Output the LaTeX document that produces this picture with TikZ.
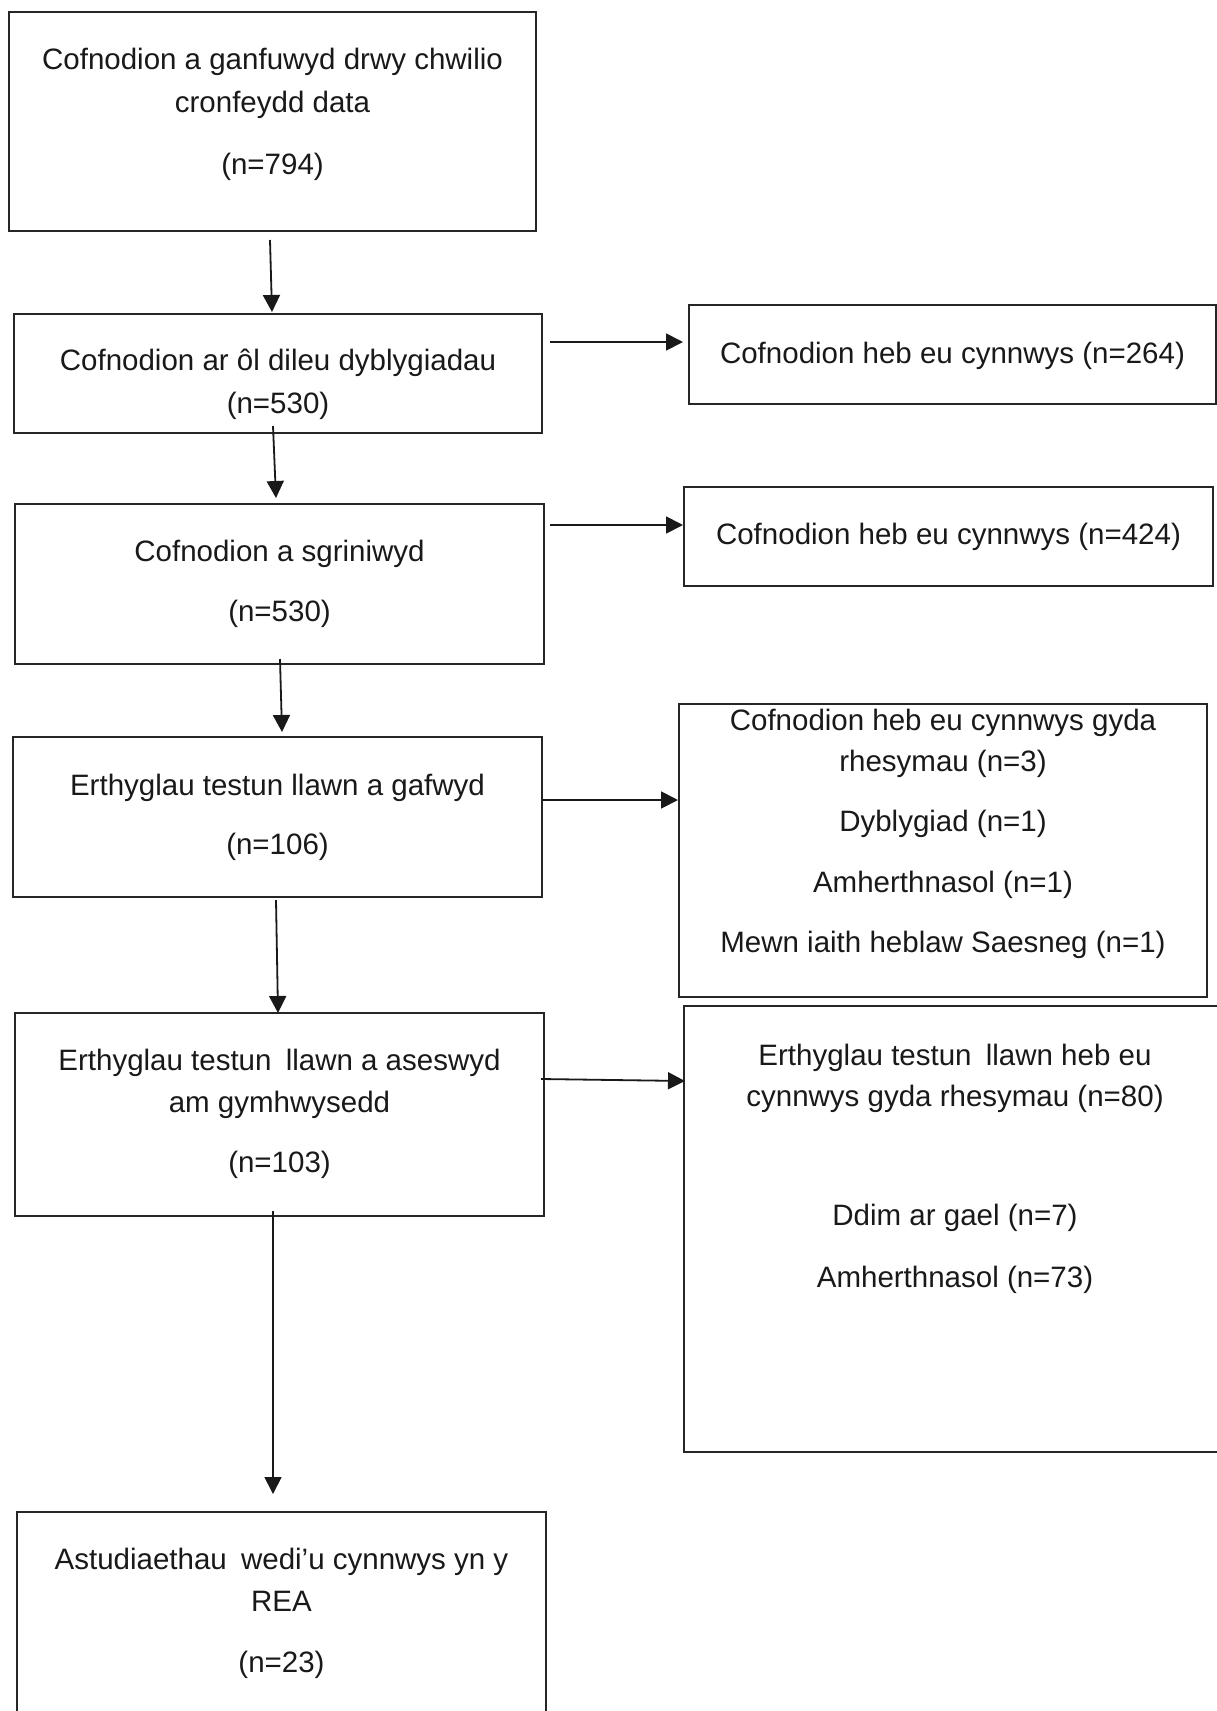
\documentclass[tikz,border=0pt]{standalone}
\usepackage{fontspec}
\setmainfont{Liberation Sans}
\usetikzlibrary{arrows.meta}
\tikzset{
  box/.style={draw=black!85, line width=1.8pt, inner sep=0pt, outer sep=0pt},
  txt/.style={anchor=base, inner sep=0pt, font=\fontsize{29.5}{35}\selectfont, text=black!90},
  arr/.style={line width=1.8pt, draw=black!90, -{Triangle[length=17pt,width=17pt]}},
}
\begin{document}
\begin{tikzpicture}[x=1pt,y=-1pt]
\clip (0,0) rectangle (1217,1711);
\fill[white] (0,0) rectangle (1217,1711);
% boxes
\node[box, minimum width=527pt, minimum height=219pt] (b1) at (272.5,121.5) {};
\node[box, minimum width=528pt, minimum height=119pt] (b2) at (278,373.5) {};
\node[box, minimum width=527pt, minimum height=99pt]  (r1) at (952.5,354.5) {};
\node[box, minimum width=529pt, minimum height=160pt] (b3) at (279.5,584) {};
\node[box, minimum width=529pt, minimum height=99pt]  (r2) at (948.5,536.5) {};
\node[box, minimum width=529pt, minimum height=160pt] (b4) at (277.5,817) {};
\node[box, minimum width=528pt, minimum height=293pt] (r3) at (943,850.5) {};
\node[box, minimum width=529pt, minimum height=203pt] (b5) at (279.5,1114.5) {};
\node[box, minimum width=542pt, minimum height=446pt] (r4) at (955,1229) {};
\node[box, minimum width=529pt, minimum height=248pt] (b6) at (281.5,1636) {};
% texts
\node[txt] (t1a) at (272.5,69) {Cofnodion a ganfuwyd drwy chwilio};
\node[txt] (t1b) at (272.5,112) {cronfeydd data};
\node[txt] (t1c) at (272.5,174) {(n=794)};
\node[txt] (t2a) at (278,370) {Cofnodion ar ôl dileu dyblygiadau};
\node[txt] (t2b) at (278,413) {(n=530)};
\node[txt] (tr1) at (952.5,363) {Cofnodion heb eu cynnwys (n=264)};
\node[txt] (t3a) at (279.5,561) {Cofnodion a sgriniwyd};
\node[txt] (t3b) at (279.5,621) {(n=530)};
\node[txt] (tr2) at (948.5,544) {Cofnodion heb eu cynnwys (n=424)};
\node[txt] (t4a) at (277.5,795) {Erthyglau testun llawn a gafwyd};
\node[txt] (t4b) at (277.5,854) {(n=106)};
\node[txt] (tr3a) at (943,730) {Cofnodion heb eu cynnwys gyda};
\node[txt] (tr3b) at (943,771) {rhesymau (n=3)};
\node[txt] (tr3c) at (943,831) {Dyblygiad (n=1)};
\node[txt] (tr3d) at (943,892) {Amherthnasol (n=1)};
\node[txt] (tr3e) at (943,952) {Mewn iaith heblaw Saesneg (n=1)};
\node[txt] (t5a) at (279.5,1070) {Erthyglau testun\hspace{6pt} llawn a aseswyd};
\node[txt] (t5b) at (279.5,1112) {am gymhwysedd};
\node[txt] (t5c) at (279.5,1172) {(n=103)};
\node[txt] (tr4a) at (955,1065) {Erthyglau testun\hspace{6pt} llawn heb eu};
\node[txt] (tr4b) at (955,1106) {cynnwys gyda rhesymau (n=80)};
\node[txt] (tr4c) at (955,1225) {Ddim ar gael (n=7)};
\node[txt] (tr4d) at (955,1287) {Amherthnasol (n=73)};
\node[txt] (t6a) at (281.5,1569) {Astudiaethau\hspace{6pt} wedi’u cynnwys yn y};
\node[txt] (t6b) at (281.5,1611) {REA};
\node[txt] (t6c) at (281.5,1672) {(n=23)};
% connector end points
\coordinate (a1s) at (270,240);  \coordinate (a1e) at (272,312);
\coordinate (a2s) at (273,426);  \coordinate (a2e) at (276,498);
\coordinate (a3s) at (280,659);  \coordinate (a3e) at (282,732);
\coordinate (a4s) at (276,900);  \coordinate (a4e) at (278,1013);
\coordinate (a5s) at (273,1211); \coordinate (a5e) at (273,1494);
\coordinate (h1s) at (550,342);  \coordinate (h1e) at (683,342);
\coordinate (h2s) at (550,525);  \coordinate (h2e) at (683,525);
\coordinate (h3s) at (542,800);  \coordinate (h3e) at (678,800);
\coordinate (h4s) at (541,1079); \coordinate (h4e) at (685,1081);
\draw[arr] (a1s) -- (a1e);
\draw[arr] (a2s) -- (a2e);
\draw[arr] (a3s) -- (a3e);
\draw[arr] (a4s) -- (a4e);
\draw[arr] (a5s) -- (a5e);
\draw[arr] (h1s) -- (h1e);
\draw[arr] (h2s) -- (h2e);
\draw[arr] (h3s) -- (h3e);
\draw[arr] (h4s) -- (h4e);
\end{tikzpicture}
\end{document}
